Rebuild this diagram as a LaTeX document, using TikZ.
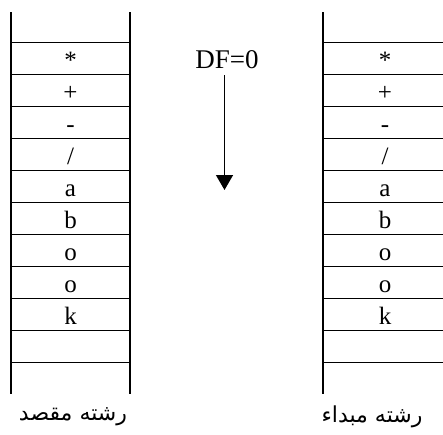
\documentclass[tikz,border=0pt]{standalone}
\usepackage{fontspec}
\setmainfont{Liberation Serif}
\newfontfamily\arabicfont[Script=Arabic]{DejaVu Sans}
\TeXXeTstate=1
\usetikzlibrary{arrows.meta}

\begin{document}
\begin{tikzpicture}[x=1pt,y=-1pt,
  cellline/.style={line width=1.5pt},
  celltext/.style={anchor=base,inner sep=0pt,font=\fontsize{25}{25}\selectfont},
  strlabel/.style={inner sep=0pt,font=\arabicfont\fontsize{22}{22}\selectfont}]
\useasboundingbox (0,0) rectangle (443,434);

% Left column (destination string)
\draw[cellline] (11,12)--(11,394);
\draw[cellline] (130,12)--(130,394);
\foreach \i in {0,...,10}{
    \draw[cellline] (11,42.7+32*\i)--(130,42.7+32*\i);
}
\foreach \s [count=\i] in {*,+,-,/,a,b,o,o,k}{
    \node[celltext] (dst\i) at (70.5,36.7+32*\i) {\s};
}
\node[strlabel] (dstlbl) at (73,417) {\beginR رشته مقصد\endR};

% Right column (source string), cut off at the right edge
\draw[cellline] (323,12)--(323,394);
\foreach \i in {0,...,10}{
    \draw[cellline] (323,42.7+32*\i)--(443,42.7+32*\i);
}
\foreach \s [count=\i] in {*,+,-,/,a,b,o,o,k}{
    \node[celltext] (src\i) at (385,36.7+32*\i) {\s};
}
\node[strlabel] (srclbl) at (372,417) {\beginR رشته مبداء\endR};

% Direction flag and arrow
\node[anchor=base,inner sep=0pt,font=\fontsize{27}{27}\selectfont] (df) at (227,68) {DF=0};
\coordinate (arrtop) at (224.5,75);
\coordinate (arrtip) at (224.5,190);
\draw[line width=1.4pt,-{Triangle[width=17pt,length=15pt]}] (arrtop)--(arrtip);

\end{tikzpicture}
\end{document}
